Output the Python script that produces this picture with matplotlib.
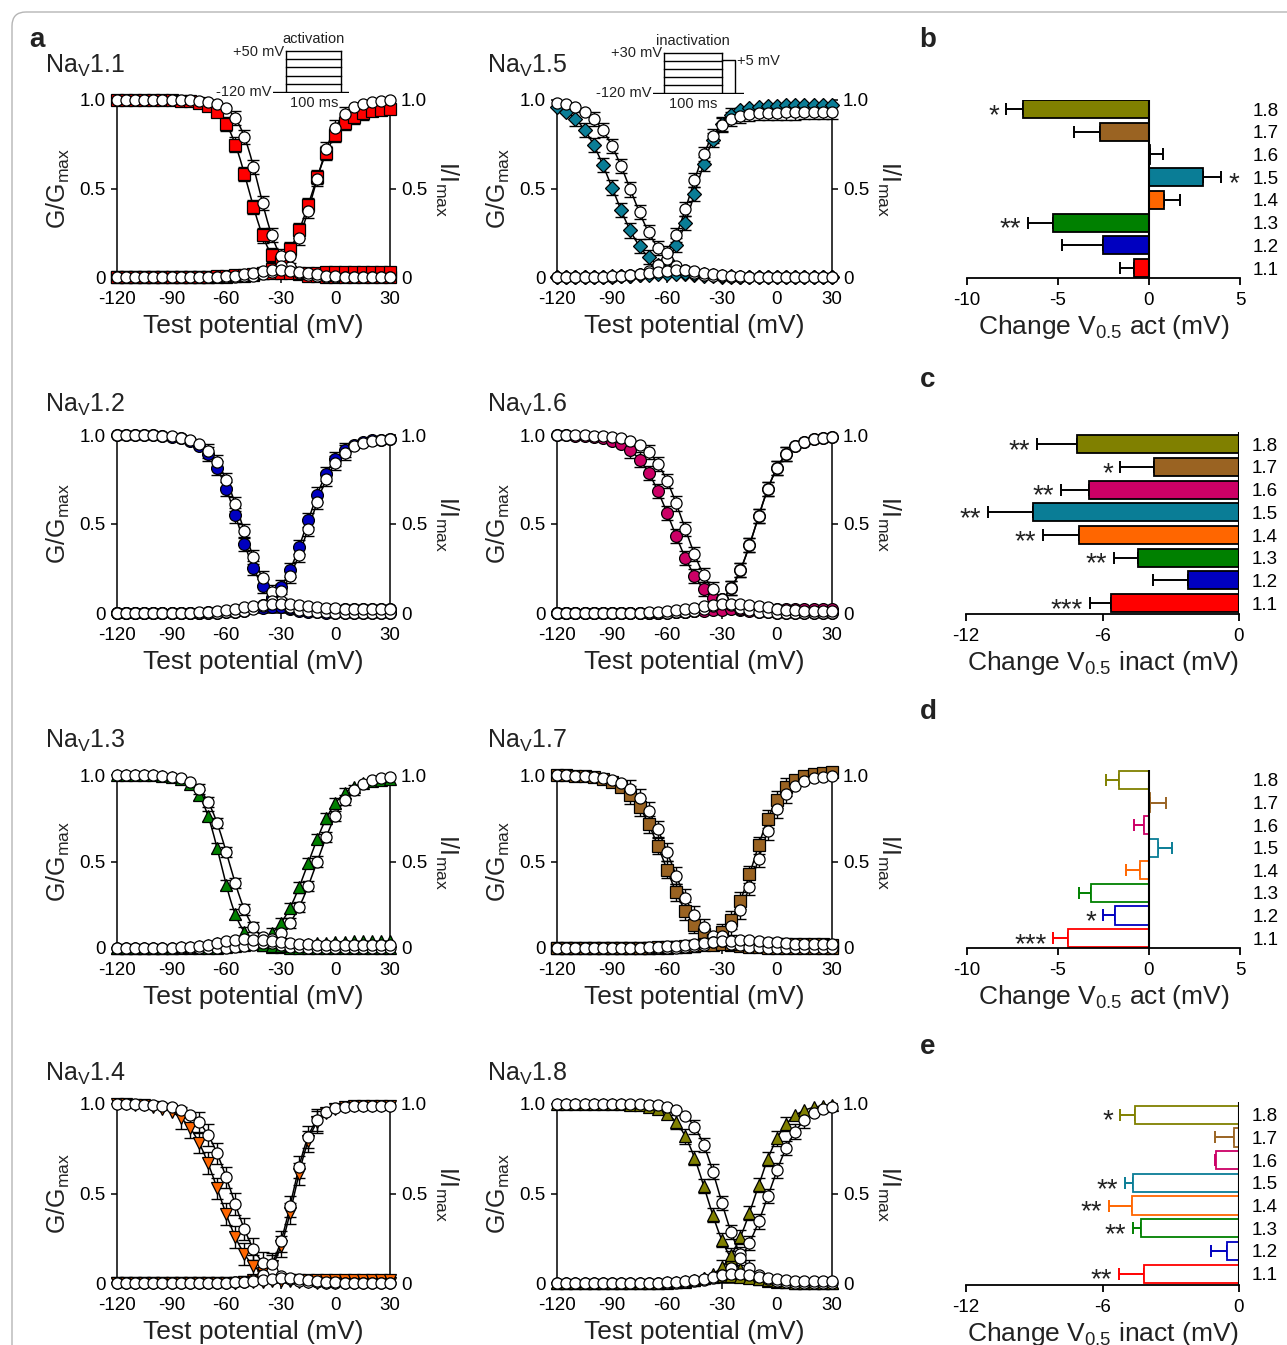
import numpy as np
import matplotlib
matplotlib.use("Agg")
import matplotlib.pyplot as plt
from matplotlib.patches import FancyBboxPatch

plt.rcParams['font.family'] = ['Liberation Sans', 'DejaVu Sans']
plt.rcParams['mathtext.fontset'] = 'custom'
plt.rcParams['mathtext.rm'] = 'Liberation Sans'
plt.rcParams['mathtext.it'] = 'Liberation Sans:italic'
plt.rcParams['mathtext.bf'] = 'Liberation Sans:bold'
plt.rcParams['axes.linewidth'] = 1.1
plt.rcParams['axes.unicode_minus'] = False
plt.rcParams['text.color'] = '#222222'

W, H = 1287, 1345

# ---- data -------------------------------------------------------------
channels = ['1.1', '1.2', '1.3', '1.4', '1.5', '1.6', '1.7', '1.8']
colors = ['#FF0000', '#0000C0', '#008000', '#FF6600',
          '#0A7D96', '#CC0066', '#9A6322', '#808000']
markers = ['s', 'o', '^', 'v', 'D', 'o', 's', '^']
msizes = [8.5, 8.5, 9, 9, 7, 8.5, 8.5, 9]

# test potentials (mV)
volts = np.arange(-120, 31, 5)

# Boltzmann fits (V1/2 and slope in mV)
# coloured symbols
inact_v50_col = [-47.8, -53.5, -63.2, -64.0, -89.8, -57.6, -61.7, -38.7]
inact_k_col = [6.6, 7.8, 5.8, 8.5, 9.5, 9.5, 9.0, 7.5]
act_v50_col = [-12.8, -16.0, -15.0, -22.6, -44.6, -11.5, -12.5, -11.5]
act_k_col = [7.5, 8.0, 8.5, 5.5, 7.0, 7.5, 7.5, 8.0]
act_top_col = [0.95, 0.98, 0.98, 0.99, 0.97, 0.99, 1.02, 1.0]
# open circles
inact_v50_open = [-42.0, -51.3, -58.5, -57.0, -80.2, -51.0, -58.0, -31.5]
inact_k_open = [6.0, 8.0, 6.8, 8.3, 9.4, 8.5, 9.0, 7.0]
act_v50_open = [-11.5, -14.5, -10.0, -23.5, -47.5, -11.5, -10.5, -4.5]
act_k_open = [6.8, 8.0, 8.5, 5.5, 7.0, 7.5, 7.5, 8.5]
act_top_open = [1.0, 0.98, 1.0, 0.99, 0.93, 0.99, 1.0, 1.0]

# baseline traces: window peak height and persistent level
win_open = [0.04, 0.05, 0.05, 0.03, 0.04, 0.05, 0.04, 0.05]
pers_open = [0.0, 0.02, 0.02, 0.0, 0.0, 0.01, 0.02, 0.01]
win_col = [0.02, 0.03, 0.03, 0.01, 0.02, 0.02, 0.02, 0.04]
pers_col = [0.03, 0.02, 0.04, 0.015, 0.0, 0.02, 0.02, 0.0]

# s.e.m. of the normalised points
sem = [0.04, 0.04, 0.03, 0.06, 0.04, 0.04, 0.05, 0.04]

# panel b - e (order 1.1 ... 1.8)
b_vals = [-0.81, -2.54, -5.26, 0.85, 2.94, 0.05, -2.68, -6.91]
b_errs = [0.81, 2.22, 1.38, 0.84, 1.03, 0.70, 1.42, 0.92]
b_stars = ['', '', '**', '', '*', '', '', '*']

c_vals = [-5.63, -2.25, -4.42, -7.02, -9.04, -6.60, -3.73, -7.14]
c_errs = [0.93, 1.55, 1.08, 1.58, 1.98, 1.23, 1.48, 1.76]
c_stars = ['***', '', '**', '**', '**', '**', '*', '**']

d_vals = [-4.45, -1.89, -3.16, -0.48, 0.48, -0.29, 0.05, -1.67]
d_errs = [0.81, 0.65, 0.66, 0.79, 0.81, 0.56, 0.91, 0.68]
d_stars = ['***', '*', '', '', '', '', '', '']

e_vals = [-4.17, -0.53, -4.32, -4.71, -4.65, -1.02, -0.22, -4.55]
e_errs = [1.10, 0.68, 0.33, 1.00, 0.37, 0.05, 0.85, 0.69]
e_stars = ['**', '', '**', '**', '**', '', '', '*']

# voltage protocols (mV levels, ms)
act_levels = [50, 16, -18, -52, -86, -120]
inact_levels = [30, 0, -30, -60, -90, -120]


def frac(x0, y0, x1, y1):
    return [x0 / W, 1 - y1 / H, (x1 - x0) / W, (y1 - y0) / H]


def inact(v, v50, k):
    return 1.0 / (1.0 + np.exp((v - v50) / k))


def act(v, v50, k, top):
    return top / (1.0 + np.exp((v50 - v) / k))


fig = plt.figure(figsize=(W / 100, H / 100), dpi=100)

over = fig.add_axes([0, 0, 1, 1], zorder=-1)
over.set_xlim(0, W)
over.set_ylim(H, 0)
over.axis('off')
over.add_patch(FancyBboxPatch((12, 12), 1300, 1360,
                              boxstyle='round,pad=0,rounding_size=14',
                              fc='none', ec='#b5b5b5', lw=1.0))

# panel boxes (pixels) for each channel
cols = {'L': (117, 390), 'R': (557, 832)}
rows = [(100, 277), (435, 613), (775, 948), (1104, 1283)]
layout = {'1.1': ('L', 0), '1.5': ('R', 0), '1.2': ('L', 1), '1.6': ('R', 1),
          '1.3': ('L', 2), '1.7': ('R', 2), '1.4': ('L', 3), '1.8': ('R', 3)}
title_y = [73, 412, 748, 1081]
title_x = {'L': 45, 'R': 487}

vfine = np.linspace(-120, 30, 400)

for i, ch in enumerate(channels):
    c, r = layout[ch]
    x0, x1 = cols[c]
    y0, y1 = rows[r]
    ax = fig.add_axes(frac(x0, y0, x1, y1))
    ax.set_xlim(-120, 30)
    ax.set_ylim(0, 1)

    curves = []
    for kind in ('col', 'open'):
        if kind == 'col':
            iv, ik = inact_v50_col[i], inact_k_col[i]
            av, ak, at = act_v50_col[i], act_k_col[i], act_top_col[i]
            wh, pl = win_col[i], pers_col[i]
        else:
            iv, ik = inact_v50_open[i], inact_k_open[i]
            av, ak, at = act_v50_open[i], act_k_open[i], act_top_open[i]
            wh, pl = win_open[i], pers_open[i]
        wf = act(vfine, av, ak, 1) * inact(vfine, iv, ik)
        wmax = wf.max()

        def base(v):
            return wh * act(v, av, ak, 1) * inact(v, iv, ik) / wmax + pl * act(v, av, ak, 1)

        for f in (lambda v: inact(v, iv, ik), lambda v: act(v, av, ak, at), base):
            ax.plot(vfine, f(vfine), color='k', lw=1.1, zorder=2, clip_on=False)
        curves.append((kind, [inact(volts, iv, ik), act(volts, av, ak, at), base(volts)]))

    for kind, ys in curves:
        for j, yv in enumerate(ys):
            if j < 2:
                m = (yv > 0.08) & (yv < 0.93)
                ax.errorbar(volts[m], yv[m], yerr=sem[i], fmt='none', ecolor='k',
                            elinewidth=1.0, capsize=4, capthick=1.0, zorder=3, clip_on=False)
            if kind == 'col':
                ax.plot(volts, yv, ls='none', marker=markers[i], ms=msizes[i], mfc=colors[i],
                        mec='k', mew=0.9, zorder=4, clip_on=False)
            else:
                ax.plot(volts, yv, ls='none', marker='o', ms=8, mfc='white',
                        mec='k', mew=0.9, zorder=5, clip_on=False)

    ax.spines['top'].set_visible(False)
    ax.set_xticks([-120, -90, -60, -30, 0, 30])
    ax.set_yticks([0, 0.5, 1.0])
    ax.set_yticklabels(['0', '0.5', '1.0'])
    ax.tick_params(direction='out', length=4, width=1.1, labelsize=13.5, pad=4,
                   right=True, labelright=True)
    ax.tick_params(axis='x', pad=6)
    ax.annotate('Test potential (mV)', xy=(0.5, 0), xycoords='axes fraction',
                xytext=(0, -35), textcoords='offset points', ha='center', va='center',
                fontsize=19)
    ax.annotate(r'G/G$_{\mathrm{max}}$', xy=(0, 0.5), xycoords='axes fraction',
                xytext=(-42, 0), textcoords='offset points', ha='center', va='center',
                rotation=90, fontsize=18)
    ax.annotate(r'I/I$_{\mathrm{max}}$', xy=(1, 0.5), xycoords='axes fraction',
                xytext=(41, 0), textcoords='offset points', ha='center', va='center',
                rotation=270, fontsize=18)
    over.text(title_x[c], title_y[r], r'Na$_{\mathrm{V}}$' + ch, fontsize=18,
              ha='left', va='baseline')

# ---- protocol insets ---------------------------------------------------
ins = fig.add_axes(frac(273, 50, 349, 93))
ins.set_xlim(-24, 114)
ins.set_ylim(-124, 54)
ins.axis('off')
ins.plot([-24, 114], [-120, -120], color='k', lw=1)
ins.plot([0, 0], [-120, 50], color='k', lw=1)
ins.plot([100, 100], [-120, 50], color='k', lw=1)
for lv in act_levels[:-1]:
    ins.plot([0, 100], [lv, lv], color='k', lw=1)
ins.text(50, 72, 'activation', ha='center', va='bottom', fontsize=10.5)
ins.text(-4, 46, '+50 mV', ha='right', va='center', fontsize=10.5)
ins.text(-26, -120, '-120 mV', ha='right', va='center', fontsize=10.5)
ins.text(50, -138, '100 ms', ha='center', va='top', fontsize=10.5)

ins2 = fig.add_axes(frac(653, 52, 744, 94))
ins2.set_xlim(-19, 138)
ins2.set_ylim(-124, 34)
ins2.axis('off')
ins2.plot([-19, 138], [-120, -120], color='k', lw=1)
ins2.plot([0, 0], [-120, 30], color='k', lw=1)
ins2.plot([100, 100], [-120, 30], color='k', lw=1)
for lv in inact_levels[:-1]:
    ins2.plot([0, 100], [lv, lv], color='k', lw=1)
ins2.plot([100, 122, 122], [5, 5, -120], color='k', lw=1)
ins2.text(50, 50, 'inactivation', ha='center', va='bottom', fontsize=10.5)
ins2.text(-3, 30, '+30 mV', ha='right', va='center', fontsize=10.5)
ins2.text(126, 0, '+5 mV', ha='left', va='center', fontsize=10.5)
ins2.text(-21, -120, '-120 mV', ha='right', va='center', fontsize=10.5)
ins2.text(50, -135, '100 ms', ha='center', va='top', fontsize=10.5)


# ---- bar panels --------------------------------------------------------
def bar_panel(box, ylim, vals, errs, stars, xlim, xticks, xlabel, filled):
    ax = fig.add_axes(frac(*box))
    y = np.arange(len(channels))
    for i in range(len(channels)):
        if filled:
            face, edge = colors[i], 'k'
        else:
            face, edge = 'white', colors[i]
        ax.barh(y[i], vals[i], height=0.8, color=face, edgecolor=edge, lw=1.3, zorder=2)
        sgn = 1 if vals[i] >= 0 else -1
        xerr = [[0], [errs[i]]] if sgn > 0 else [[errs[i]], [0]]
        ax.errorbar([vals[i]], [y[i]], xerr=xerr, fmt='none', ecolor=edge,
                    elinewidth=1.4, capsize=4.5, capthick=1.4, zorder=1)
        if stars[i]:
            end = vals[i] + sgn * errs[i]
            ax.annotate(stars[i], xy=(end, y[i]), xytext=(5 * sgn, -5),
                        textcoords='offset points', ha='right' if sgn < 0 else 'left',
                        va='center', fontsize=20)
    ax.axvline(0, color='k', lw=1.5, zorder=3)
    ax.set_xlim(*xlim)
    ax.set_ylim(*ylim)
    ax.set_xticks(xticks)
    ax.set_yticks(y)
    ax.set_yticklabels(channels)
    ax.yaxis.tick_right()
    for s in ('top', 'left', 'right'):
        ax.spines[s].set_visible(False)
    ax.spines['bottom'].set_linewidth(1.3)
    ax.tick_params(axis='y', length=0, pad=9, labelsize=13.5)
    ax.tick_params(axis='x', direction='out', length=5, width=1.3, labelsize=13.5, pad=5)
    ax.annotate(xlabel, xy=(0.5, 0), xycoords='axes fraction', xytext=(0, -35),
                textcoords='offset points', ha='center', va='center', fontsize=19)
    return ax


bar_panel((967, 100, 1240, 278), (-0.44, 7.4), b_vals, b_errs, b_stars, (-10, 5),
          [-10, -5, 0, 5], r'Change V$_{0.5}$ act (mV)', True)
bar_panel((966, 432, 1239, 614), (-0.48, 7.54), c_vals, c_errs, c_stars, (-12, 0),
          [-12, -6, 0], r'Change V$_{0.5}$ inact (mV)', True)
bar_panel((967, 770, 1240, 948), (-0.44, 7.44), d_vals, d_errs, d_stars, (-10, 5),
          [-10, -5, 0, 5], r'Change V$_{0.5}$ act (mV)', False)
bar_panel((966, 1102, 1239, 1285), (-0.5, 7.56), e_vals, e_errs, e_stars, (-12, 0),
          [-12, -6, 0], r'Change V$_{0.5}$ inact (mV)', False)

# panel letters
for lab, (px, py) in {'a': (37, 40), 'b': (928, 40), 'c': (928, 380),
                      'd': (928, 712), 'e': (928, 1047)}.items():
    over.text(px, py, lab, fontsize=20, fontweight='bold', ha='center', va='center')

fig.savefig('out.png', dpi=100)
